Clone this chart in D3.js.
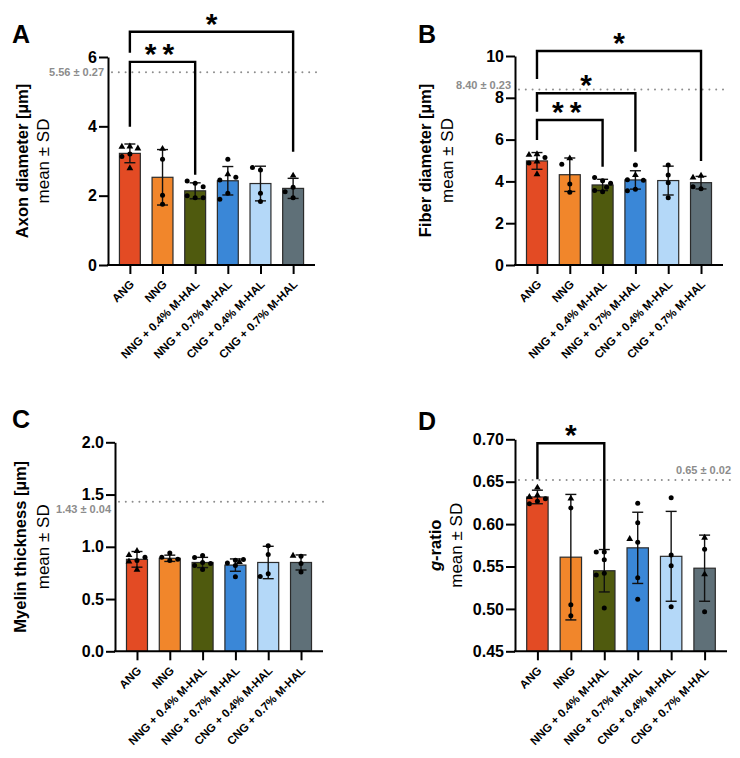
<!DOCTYPE html>
<html>
<head>
<meta charset="utf-8">
<script src="https://cdn.jsdelivr.net/npm/d3@7"></script>
<style>
  body { margin: 0; background: #fff; }
  text { font-family: "Liberation Sans", Arial, sans-serif; }
</style>
</head>
<body>
<div id="chart"></div>
<script>
// groups shared by all four panels
var groups = ["ANG", "NNG", "NNG + 0.4% M-HAL", "NNG + 0.7% M-HAL", "CNG + 0.4% M-HAL", "CNG + 0.7% M-HAL"];
var barColors = ["#e34b24", "#f1862b", "#4f5a0e", "#3a87d7", "#b4d8f8", "#5f7078"];

// A - axon diameter
var axonMean = [3.22, 2.53, 2.14, 2.43, 2.35, 2.21];
var axonSD = [0.27, 0.80, 0.23, 0.41, 0.50, 0.29];
var axonPoints = [[3.42, 3.41, 3.36, 3.20, 3.13, 2.79], [3.35, 3.05, 2.01, 1.75], [2.36, 2.42, 2.26, 1.94, 2.00, 1.94],
  [3.05, 2.62, 2.45, 2.53, 2.07, 1.90], [2.74, 2.81, 2.07, 1.83], [2.58, 2.24, 2.11, 1.94]];
var axonShapes = ["tttcct", "tccc", "cccccc", "ctcccc", "cccc", "tccc"];
var axonRef = [5.56, 0.27];
var axonTicks = [0, 2, 4, 6];
// [from, to, label, bracket level, left leg end, right leg end]
var axonSig = [[0, 2, "**", 5.86, 3.99, 2.60], [0, 5, "*", 6.73, 6.12, 3.27]];

// B - fiber diameter
var fiberMean = [4.98, 4.32, 3.83, 4.07, 4.04, 3.94];
var fiberSD = [0.40, 0.80, 0.27, 0.44, 0.69, 0.30];
var fiberPoints = [[5.30, 5.27, 5.14, 4.95, 4.88, 4.34], [5.10, 4.82, 3.88, 3.48], [4.03, 4.19, 3.91, 3.51, 3.56, 3.72],
  [4.78, 4.30, 4.08, 4.05, 3.62, 3.55], [4.78, 4.31, 3.94, 3.22], [4.27, 4.18, 3.65, 3.75]];
var fiberShapes = ["ttctct", "tccc", "cccccc", "ctcccc", "cccc", "ttcc"];
var fiberRef = [8.40, 0.23];
var fiberTicks = [0, 2, 4, 6, 8, 10];
var fiberSig = [[0, 2, "**", 6.94, 5.98, 4.70], [0, 3, "*", 8.22, 7.33, 5.42], [0, 5, "*", 10.24, 8.90, 4.98]];

// C - myelin thickness
var myelinMean = [0.88, 0.89, 0.85, 0.825, 0.85, 0.85];
var myelinSD = [0.075, 0.03, 0.049, 0.059, 0.155, 0.072];
var myelinPoints = [[0.96, 0.92, 0.90, 0.87, 0.86, 0.78], [0.87, 0.90, 0.94, 0.88], [0.917, 0.898, 0.85, 0.84, 0.783, 0.82],
  [0.872, 0.845, 0.879, 0.855, 0.82, 0.713], [1.01, 0.926, 0.741, 0.716], [0.91, 0.914, 0.84, 0.76]];
var myelinShapes = ["ttcctt", "cccc", "cccccc", "ccctcc", "cccc", "ctcc"];
var myelinRef = [1.43, 0.04];
var myelinTicks = [0, 0.5, 1.0, 1.5, 2.0];
var myelinSig = [];

// D - g-ratio
var gMean = [0.632, 0.561, 0.545, 0.572, 0.562, 0.548];
var gSD = [0.008, 0.074, 0.025, 0.042, 0.053, 0.039];
var gPoints = [[0.643, 0.634, 0.632, 0.630, 0.627, 0.624], [0.630, 0.619, 0.505, 0.492], [0.567, 0.567, 0.558, 0.542, 0.540, 0.501],
  [0.6245, 0.6017, 0.5786, 0.5824, 0.5367, 0.5113], [0.631, 0.5636, 0.551, 0.5026], [0.584, 0.5703, 0.5408, 0.4967]];
var gShapes = ["tttccc", "tccc", "cccccc", "ccctcc", "cccc", "tctc"];
var gRef = [0.652, 0.02];
var gTicks = [0.45, 0.50, 0.55, 0.60, 0.65, 0.70];
var gSig = [[0, 2, "*", 0.6953, 0.6528, 0.5703]];

var svg = d3.select("#chart")
  .append("svg")
  .attr("width", 740)
  .attr("height", 758);

svg.append("rect").attr("width", 740).attr("height", 758).attr("fill", "#fff");

// panel layouts
var panels = [
  { letter: "A", lx: 12, ly: 43, x0: 108, w: 207, yTop: 57, yBot: 265, title: "Axon diameter [µm]",
    tx: 21.7, mx: 42.7, mean: axonMean, sd: axonSD, pts: axonPoints, shapes: axonShapes,
    ref: axonRef, refPos: "left", refDy: 4, ticks: axonTicks, fmt: "d", sig: axonSig },
  { letter: "B", lx: 418, ly: 43, x0: 515, w: 208, yTop: 56, yBot: 265, title: "Fiber diameter [µm]",
    tx: 425, mx: 447.3, mean: fiberMean, sd: fiberSD, pts: fiberPoints, shapes: fiberShapes,
    ref: fiberRef, refPos: "left", refDy: 0, ticks: fiberTicks, fmt: "d", sig: fiberSig },
  { letter: "C", lx: 12, ly: 428, x0: 115, w: 208, yTop: 442.3, yBot: 651.3, title: "Myelin thickness [µm]",
    tx: 20, mx: 42.7, mean: myelinMean, sd: myelinSD, pts: myelinPoints, shapes: myelinShapes,
    ref: myelinRef, refPos: "left", refDy: 11, ticks: myelinTicks, fmt: ".1f", sig: myelinSig },
  { letter: "D", lx: 418, ly: 430, x0: 515, w: 212, yTop: 439.3, yBot: 651.3, title: "g-ratio",
    tx: 435, mx: 456, mean: gMean, sd: gSD, pts: gPoints, shapes: gShapes,
    ref: gRef, refPos: "right", refDy: -6, ticks: gTicks, fmt: ".2f", sig: gSig }
];

panels.forEach(drawPanel);

function drawPanel(p) {
  var g = svg.append("g");
  var x = d3.scalePoint().domain(groups).range([p.x0, p.x0 + p.w]).padding(0.67);
  var y = d3.scaleLinear().domain([p.ticks[0], p.ticks[p.ticks.length - 1]]).range([p.yBot, p.yTop]);
  var bw = x.step() * 0.64;

  // panel letter
  g.append("text").attr("x", p.lx).attr("y", p.ly)
    .style("font-size", "25px").style("font-weight", "bold").text(p.letter);

  // reference line (native nerve)
  var ry = y(p.ref[0]);
  g.append("line")
    .attr("x1", p.x0 + 4).attr("x2", p.x0 + p.w + 4)
    .attr("y1", ry).attr("y2", ry)
    .attr("stroke", "#8c8c8c").attr("stroke-width", 2)
    .attr("stroke-linecap", "round").attr("stroke-dasharray", "0 6.8");
  var refText = d3.format(".2f")(p.ref[0]) + " ± " + d3.format(".2f")(p.ref[1]);
  g.append("text")
    .attr("x", p.refPos == "left" ? p.x0 - 4 : p.x0 + p.w + 4)
    .attr("y", ry + p.refDy)
    .style("text-anchor", "end")
    .style("font-size", "11px").style("font-weight", "bold").attr("fill", "#8c8c8c").text(refText);

  // bars
  g.selectAll(".bar").data(p.mean).enter().append("rect")
    .attr("x", function (d, i) { return x(groups[i]) - bw / 2; })
    .attr("y", function (d) { return y(d); })
    .attr("width", bw)
    .attr("height", function (d) { return p.yBot - y(d); })
    .attr("fill", function (d, i) { return barColors[i]; })
    .attr("stroke", "#2b2b2b").attr("stroke-width", 1.2);

  // error bars
  p.mean.forEach(function (m, i) {
    var cx = x(groups[i]);
    var lo = y(m - p.sd[i]), hi = y(m + p.sd[i]);
    g.append("line").attr("x1", cx).attr("x2", cx).attr("y1", lo).attr("y2", hi)
      .attr("stroke", "#111").attr("stroke-width", 1.4);
    [lo, hi].forEach(function (v) {
      g.append("line").attr("x1", cx - 5.5).attr("x2", cx + 5.5).attr("y1", v).attr("y2", v)
        .attr("stroke", "#111").attr("stroke-width", 1.4);
    });
  });

  // points, spread sideways where they overlap
  var tri = d3.symbol().type(d3.symbolTriangle).size(20);
  p.pts.forEach(function (arr, i) {
    var cx = x(groups[i]);
    var placed = [];
    arr.forEach(function (v, j) {
      var py = y(v);
      var offs = [0, -8, 8, -4, 4];
      var best = 0, bestD = -1;
      for (var k = 0; k < offs.length; k++) {
        var dmin = d3.min(placed, function (q) { return Math.hypot(q[0] - offs[k], q[1] - py); });
        if (dmin === undefined) dmin = 99;
        if (dmin >= 6.5) { best = offs[k]; break; }
        if (dmin > bestD) { bestD = dmin; best = offs[k]; }
      }
      placed.push([best, py]);
      if (p.shapes[i][j] == "t") {
        g.append("path").attr("d", tri)
          .attr("transform", "translate(" + (cx + best) + "," + py + ")")
          .attr("fill", "#000");
      } else {
        g.append("circle").attr("cx", cx + best).attr("cy", py).attr("r", 2.5).attr("fill", "#000");
      }
    });
  });

  // y axis
  var ya = g.append("g")
    .attr("transform", "translate(" + p.x0 + ",0)")
    .call(d3.axisLeft(y).tickValues(p.ticks).tickFormat(d3.format(p.fmt)).tickSize(9).tickSizeOuter(0).tickPadding(2));
  ya.select(".domain").attr("stroke", "#000").attr("stroke-width", 2);
  ya.selectAll(".tick line").attr("stroke", "#000").attr("stroke-width", 2);
  ya.selectAll(".tick text").style("font-size", "16px").style("font-weight", "bold")
    .style("font-family", "'Liberation Sans', Arial, sans-serif").attr("fill", "#000");

  // x axis
  var xa = g.append("g")
    .attr("transform", "translate(0," + p.yBot + ")")
    .call(d3.axisBottom(x).tickSize(9).tickSizeOuter(0).tickFormat(""));
  xa.select(".domain").attr("stroke", "#000").attr("stroke-width", 2)
    .attr("d", "M" + (p.x0 - 1) + ",0H" + (p.x0 + p.w));
  xa.selectAll(".tick line").attr("stroke", "#000").attr("stroke-width", 2);

  groups.forEach(function (name) {
    g.append("text")
      .attr("transform", "translate(" + (x(name) + 5) + "," + (p.yBot + 20) + ") rotate(-45)")
      .style("text-anchor", "end").style("font-size", "11.5px").style("font-weight", "bold")
      .text(name);
  });

  // axis titles
  var cy = (p.yTop + p.yBot) / 2;
  var t = g.append("text")
    .attr("transform", "translate(" + (p.tx + 6) + "," + cy + ") rotate(-90)")
    .style("text-anchor", "middle").style("font-size", "16.5px").style("font-weight", "bold");
  if (p.title == "g-ratio") {
    t.append("tspan").style("font-style", "italic").text("g");
    t.append("tspan").text("-ratio");
  } else {
    t.text(p.title);
  }
  g.append("text")
    .attr("transform", "translate(" + (p.mx + 6) + "," + cy + ") rotate(-90)")
    .style("text-anchor", "middle").style("font-size", "17px")
    .text("mean ± SD");

  // significance brackets
  p.sig.forEach(function (s) {
    var xl = x(groups[s[0]]), xr = x(groups[s[1]]);
    g.append("path")
      .attr("d", "M" + xl + "," + y(s[4]) + "V" + y(s[3]) + "H" + xr + "V" + y(s[5]))
      .attr("fill", "none").attr("stroke", "#000").attr("stroke-width", 2.4);
    g.append("text")
      .attr("x", (xl + xr) / 2).attr("y", y(s[3]) + 2)
      .style("text-anchor", "middle").style("font-size", "30px").style("font-weight", "bold")
      .style("letter-spacing", s[2].length > 1 ? "6px" : "0px")
      .text(s[2]);
  });
}
</script>
</body>
</html>
